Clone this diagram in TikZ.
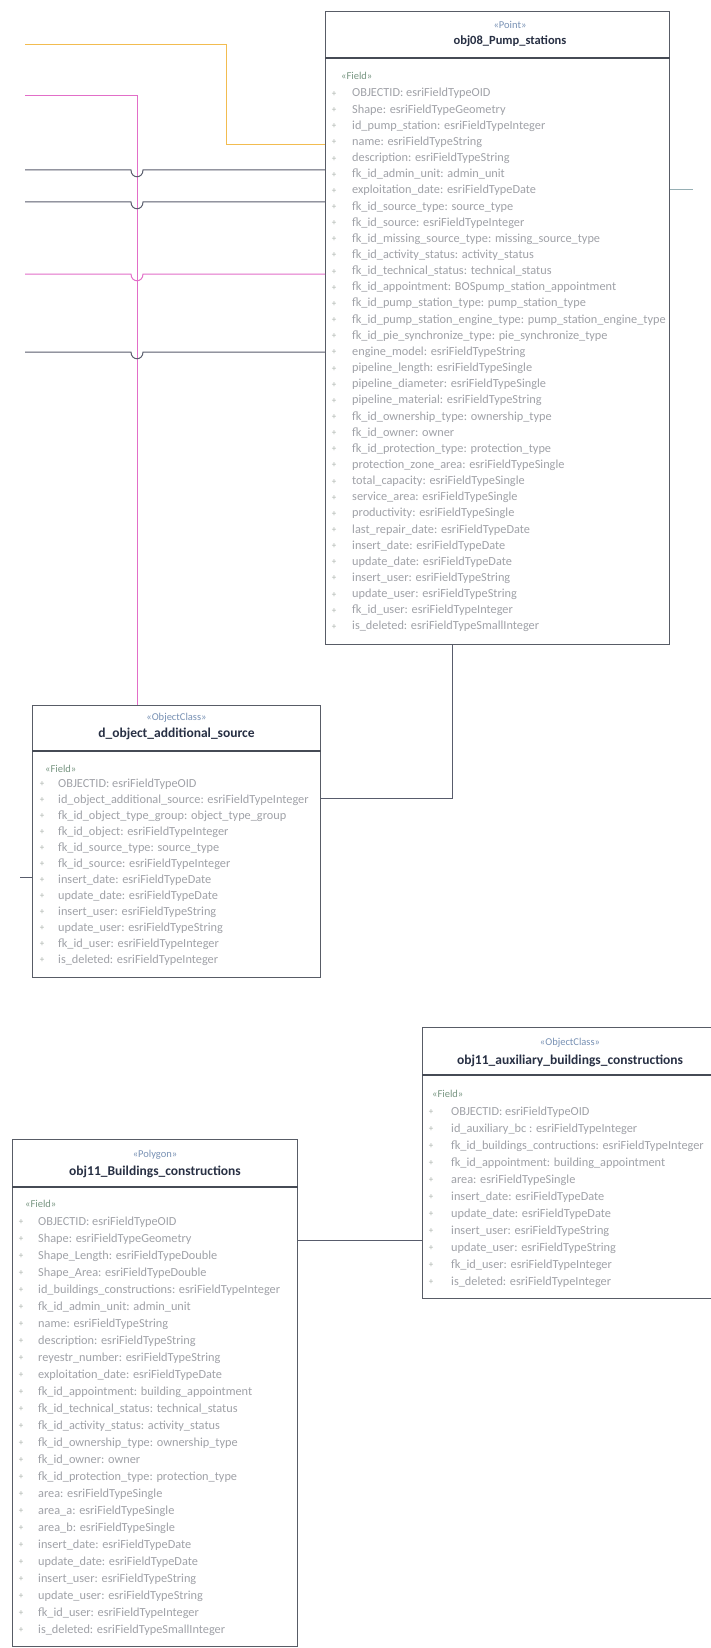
\documentclass[tikz,border=0pt]{standalone}
\usepackage{fontspec}
\setmainfont{Carlito}
\definecolor{frame}{RGB}{88,92,102}
\definecolor{sepc}{RGB}{70,75,85}
\definecolor{conn}{RGB}{88,92,108}
\definecolor{yel}{RGB}{242,188,80}
\definecolor{pnk}{RGB}{226,110,200}
\definecolor{rowc}{RGB}{160,162,168}
\definecolor{plusc}{RGB}{170,178,172}
\definecolor{stereoc}{RGB}{120,145,180}
\definecolor{fieldc}{RGB}{120,150,130}
\definecolor{titlec}{RGB}{40,48,68}
\definecolor{stubc}{RGB}{150,175,180}
\tikzset{
 umlbox/.style={draw=frame, line width=1pt, inner sep=0pt, anchor=north west},
 sepline/.style={draw=sepc, line width=1.4pt},
 stereotxt/.style={text=stereoc, font=\fontsize{10.5}{12}\selectfont, inner sep=0pt},
 titletxt/.style={text=titlec, font=\fontsize{13.5}{16}\selectfont\bfseries, inner sep=0pt},
 fieldtxt/.style={text=fieldc, font=\fontsize{10.5}{12}\selectfont, inner sep=0pt, anchor=west},
 rowtxt/.style={text=rowc, font=\fontsize{12.3}{14}\selectfont, inner sep=0pt, anchor=west, text height=8.5pt, text depth=2.5pt},
 plustxt/.style={text=plusc, font=\fontsize{9}{10}\selectfont, inner sep=0pt},
 conndk/.style={draw=conn, line width=1pt},
 connyl/.style={draw=yel, line width=1pt},
 connpk/.style={draw=pnk, line width=1pt},
 stubline/.style={draw=stubc, line width=1pt},
}
\begin{document}
\begin{tikzpicture}[x=1pt,y=-1pt]
\useasboundingbox (0,0) rectangle (711,1648);
\clip (0,0) rectangle (711,1648);
\fill[white] (0,0) rectangle (711,1648);

% ---------- boxes ----------
\node[umlbox, minimum width=344, minimum height=633] (pump) at (325,11) {};
\node[umlbox, minimum width=288, minimum height=272] (dobj) at (32,705) {};
\node[umlbox, minimum width=296, minimum height=271] (aux) at (422,1027) {};
\node[umlbox, minimum width=285, minimum height=507] (bld) at (12,1139) {};

% header separators
\draw[sepline] (pump.west |- 0,58) -- (pump.east |- 0,58);
\draw[sepline] (dobj.west |- 0,751) -- (dobj.east |- 0,751);
\draw[sepline] (aux.west |- 0,1075) -- (aux.east |- 0,1075);
\draw[sepline] (bld.west |- 0,1187) -- (bld.east |- 0,1187);

% headers
\node[stereotxt] (pumpst) at (510,25) {«Point»};
\node[titletxt, font=\fontsize{12.5}{15}\selectfont\bfseries] (pumpti) at (510,41) {obj08\_Pump\_stations};
\node[stereotxt] (dobjst) at (dobj.north |- 0,718) {«ObjectClass»};
\node[titletxt] (dobjti) at (dobj.north |- 0,734) {d\_object\_additional\_source};
\node[stereotxt] (auxst) at (570,1043) {«ObjectClass»};
\node[titletxt] (auxti) at (570,1061) {obj11\_auxiliary\_buildings\_constructions};
\node[stereotxt] (bldst) at (bld.north |- 0,1155) {«Polygon»};
\node[titletxt] (bldti) at (bld.north |- 0,1172) {obj11\_Buildings\_constructions};

\node[fieldtxt] (pumpfl) at (341,76) {«Field»};
\node[fieldtxt] (dobjfl) at (45,769) {«Field»};
\node[fieldtxt] (auxfl) at (432,1094) {«Field»};
\node[fieldtxt] (bldfl) at (25,1204) {«Field»};

% ---------- rows ----------
\foreach \t [count=\i] in {
OBJECTID: esriFieldTypeOID,
Shape: esriFieldTypeGeometry,
id\_pump\_station: esriFieldTypeInteger,
name: esriFieldTypeString,
description: esriFieldTypeString,
fk\_id\_admin\_unit: admin\_unit,
exploitation\_date: esriFieldTypeDate,
fk\_id\_source\_type: source\_type,
fk\_id\_source: esriFieldTypeInteger,
fk\_id\_missing\_source\_type: missing\_source\_type,
fk\_id\_activity\_status: activity\_status,
fk\_id\_technical\_status: technical\_status,
fk\_id\_appointment: BOSpump\_station\_appointment,
fk\_id\_pump\_station\_type: pump\_station\_type,
fk\_id\_pump\_station\_engine\_type: pump\_station\_engine\_type,
fk\_id\_pie\_synchronize\_type: pie\_synchronize\_type,
engine\_model: esriFieldTypeString,
pipeline\_length: esriFieldTypeSingle,
pipeline\_diameter: esriFieldTypeSingle,
pipeline\_material: esriFieldTypeString,
fk\_id\_ownership\_type: ownership\_type,
fk\_id\_owner: owner,
fk\_id\_protection\_type: protection\_type,
protection\_zone\_area: esriFieldTypeSingle,
total\_capacity: esriFieldTypeSingle,
service\_area: esriFieldTypeSingle,
productivity: esriFieldTypeSingle,
last\_repair\_date: esriFieldTypeDate,
insert\_date: esriFieldTypeDate,
update\_date: esriFieldTypeDate,
insert\_user: esriFieldTypeString,
update\_user: esriFieldTypeString,
fk\_id\_user: esriFieldTypeInteger,
is\_deleted: esriFieldTypeSmallInteger}
{
 \node[plustxt] (pp\i) at (334,{94+(\i-1)*16.15}) {+};
 \node[rowtxt] (pr\i) at (352,{94+(\i-1)*16.15}) {\t};
}

\foreach \t [count=\i] in {
OBJECTID: esriFieldTypeOID,
id\_object\_additional\_source: esriFieldTypeInteger,
fk\_id\_object\_type\_group: object\_type\_group,
fk\_id\_object: esriFieldTypeInteger,
fk\_id\_source\_type: source\_type,
fk\_id\_source: esriFieldTypeInteger,
insert\_date: esriFieldTypeDate,
update\_date: esriFieldTypeDate,
insert\_user: esriFieldTypeString,
update\_user: esriFieldTypeString,
fk\_id\_user: esriFieldTypeInteger,
is\_deleted: esriFieldTypeInteger}
{
 \node[plustxt] (dp\i) at (42,{784+(\i-1)*16}) {+};
 \node[rowtxt] (dr\i) at (58,{784+(\i-1)*16}) {\t};
}

\foreach \t [count=\i] in {
OBJECTID: esriFieldTypeOID,
id\_auxiliary\_bc : esriFieldTypeInteger,
fk\_id\_buildings\_contructions: esriFieldTypeInteger,
fk\_id\_appointment: building\_appointment,
area: esriFieldTypeSingle,
insert\_date: esriFieldTypeDate,
update\_date: esriFieldTypeDate,
insert\_user: esriFieldTypeString,
update\_user: esriFieldTypeString,
fk\_id\_user: esriFieldTypeInteger,
is\_deleted: esriFieldTypeInteger}
{
 \node[plustxt] (ap\i) at (431,{1112+(\i-1)*17}) {+};
 \node[rowtxt] (ar\i) at (451,{1112+(\i-1)*17}) {\t};
}

\foreach \t [count=\i] in {
OBJECTID: esriFieldTypeOID,
Shape: esriFieldTypeGeometry,
Shape\_Length: esriFieldTypeDouble,
Shape\_Area: esriFieldTypeDouble,
id\_buildings\_constructions: esriFieldTypeInteger,
fk\_id\_admin\_unit: admin\_unit,
name: esriFieldTypeString,
description: esriFieldTypeString,
reyestr\_number: esriFieldTypeString,
exploitation\_date: esriFieldTypeDate,
fk\_id\_appointment: building\_appointment,
fk\_id\_technical\_status: technical\_status,
fk\_id\_activity\_status: activity\_status,
fk\_id\_ownership\_type: ownership\_type,
fk\_id\_owner: owner,
fk\_id\_protection\_type: protection\_type,
area: esriFieldTypeSingle,
area\_a: esriFieldTypeSingle,
area\_b: esriFieldTypeSingle,
insert\_date: esriFieldTypeDate,
update\_date: esriFieldTypeDate,
insert\_user: esriFieldTypeString,
update\_user: esriFieldTypeString,
fk\_id\_user: esriFieldTypeInteger,
is\_deleted: esriFieldTypeSmallInteger}
{
 \node[plustxt] (bp\i) at (21,{1222+(\i-1)*17}) {+};
 \node[rowtxt] (br\i) at (38,{1222+(\i-1)*17}) {\t};
}

% ---------- connectors ----------
\coordinate (ys) at (25,45);
\coordinate (yb) at (226,145);
\draw[connyl] (ys) -| (yb) -- (pump.west |- yb);

\coordinate (ps) at (25,96);
\coordinate (pv) at (137,0);
\draw[connpk] (ps) -| (dobj.north -| pv);

\foreach \yy/\sty/\nm in {170/conndk/la, 202/conndk/lb, 274/connpk/lc, 352/conndk/ld}{
 \coordinate (\nm) at (25,\yy);
 \draw[\sty] (\nm) -- (131,\yy) .. controls (131,\yy+9) and (143,\yy+9) .. (143,\yy) -- (pump.west |- \nm);
}

\coordinate (st) at (693,190);
\draw[stubline] (pump.east |- st) -- (st);

\coordinate (dc) at (452,798);
\draw[conndk] (dobj.east |- dc) -| (pump.south -| dc);

\coordinate (tk) at (20,877);
\draw[conndk] (tk) -- (dobj.west |- tk);

\coordinate (bc) at (0,1240);
\draw[conndk] (bld.east |- bc) -- (aux.west |- bc);
\end{tikzpicture}
\end{document}
